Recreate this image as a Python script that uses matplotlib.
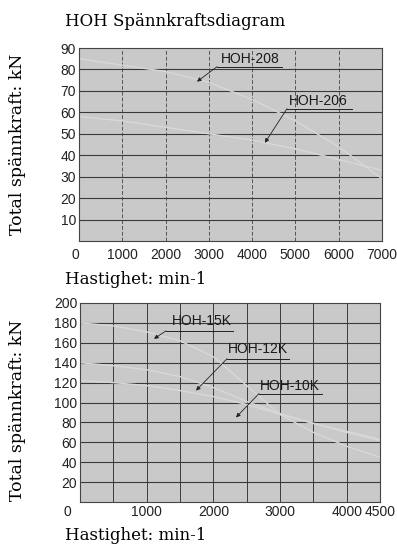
import matplotlib
matplotlib.use("Agg")
import matplotlib.pyplot as plt
import matplotlib.transforms as mtransforms
import numpy as np

# ------------------------------------------------------------------
# data
rpm_top = [0, 1000, 2000, 3000, 4000, 5000, 6000, 7000]
hoh_208 = [85, 82, 79, 74, 66, 56, 44, 29]
hoh_206 = [58, 56, 53, 50, 47, 43, 38, 33]

rpm_bot = [0, 500, 1000, 1500, 2000, 2500, 3000, 3500, 4000, 4500]
hoh_15k = [180, 177, 171, 162, 146, 117, 88, 70, 56, 45]
hoh_12k = [140, 137, 133, 126, 115, 101, 89, 79, 70, 62]
hoh_10k = [122, 120, 117, 112, 106, 98, 88, 79, 71, 63]

xticks_top = [0, 1000, 2000, 3000, 4000, 5000, 6000, 7000]
yticks_top = [10, 20, 30, 40, 50, 60, 70, 80, 90]
xticks_bot = [0, 1000, 2000, 3000, 4000, 4500]
yticks_bot = [20, 40, 60, 80, 100, 120, 140, 160, 180, 200]

title = "HOH Spännkraftsdiagram"
ylab = "Total spännkraft: kN"
xlab = "Hastighet: min-1"
# ------------------------------------------------------------------

W, H = 397, 555
serif = ["DejaVu Serif"]
narrow = ["Liberation Sans", "DejaVu Sans"]
bg = "#c9c9c9"
line_col = "#d8d8d8"
grid_col = "#3a3a3a"


def px(x, y):
    return x / W, 1 - y / H


def style_axes(ax, xticks, yticks, xlim, ylim, vgrid, hgrid, vdash, vcol):
    ax.set_facecolor(bg)
    ax.set_xlim(*xlim)
    ax.set_ylim(*ylim)
    for v in vgrid:
        ax.axvline(v, color=vcol, lw=0.7, ls=vdash, zorder=1)
    for h in hgrid:
        ax.axhline(h, color=grid_col, lw=0.8, zorder=1)
    ax.set_xticks(xticks)
    ax.set_yticks(yticks)
    ax.set_xticklabels([str(t) for t in xticks], family=narrow, fontsize=10)
    ax.set_yticklabels([str(t) for t in yticks], family=narrow, fontsize=10)
    ax.tick_params(length=0, pad=2, colors="#222222")
    for s in ax.spines.values():
        s.set_color("#444444")
        s.set_linewidth(0.8)
    # the "0" label sits left of the corner in the original
    lab0 = ax.get_xticklabels()[0]
    lab0.set_horizontalalignment("right")
    off = mtransforms.ScaledTranslation(-6 / 72, 0, ax.figure.dpi_scale_trans)
    lab0.set_transform(lab0.get_transform() + off)


def label(ax, text, xy_text, y_under, x_under, target):
    ax.text(xy_text[0], xy_text[1], text, family=narrow, fontsize=10,
            ha="center", va="center", color="#1a1a1a", zorder=4)
    ax.plot(x_under, [y_under, y_under], color="#222222", lw=0.7, zorder=4)
    ax.annotate("", xy=target, xytext=(x_under[0], y_under),
                arrowprops=dict(arrowstyle="-|>", color="#222222", lw=0.6,
                                mutation_scale=6, shrinkA=0, shrinkB=0),
                zorder=4)


fig = plt.figure(figsize=(W / 100, H / 100), dpi=100)

# top diagram
ax1 = fig.add_axes([79 / W, 1 - 241 / H, 303 / W, 193 / H])
style_axes(ax1, xticks_top, yticks_top, (0, 7000), (0, 90),
           range(1000, 7000, 1000), range(10, 90, 10), (0, (4, 2)), "#555555")
ax1.tick_params(axis="x", pad=5)
ax1.plot(rpm_top, hoh_208, color=line_col, lw=1.0, zorder=2)
ax1.plot(rpm_top, hoh_206, color=line_col, lw=1.0, zorder=2)
label(ax1, "HOH-208", (3950, 85), 81.3, [3190, 4690], (2725, 74.3))
label(ax1, "HOH-206", (5520, 65.4), 61.7, [4805, 6300], (4295, 45.8))

# bottom diagram
ax2 = fig.add_axes([80 / W, 1 - 502 / H, 300 / W, 199 / H])
style_axes(ax2, xticks_bot, yticks_bot, (0, 4500), (0, 200),
           range(500, 4500, 500), range(20, 200, 20), "-", grid_col)
ax2.plot(rpm_bot, hoh_15k, color=line_col, lw=1.0, zorder=2)
ax2.plot(rpm_bot, hoh_12k, color=line_col, lw=1.0, zorder=2)
ax2.plot(rpm_bot, hoh_10k, color=line_col, lw=1.0, zorder=2)
label(ax2, "HOH-15K", (1830, 182), 172, [1290, 2295], (1110, 164))
label(ax2, "HOH-12K", (2670, 154), 144, [2205, 3135], (1740, 112))
label(ax2, "HOH-10K", (3150, 117), 109, [2685, 3630], (2340, 85))

# figure texts
fig.text(*px(65, 21), title, family=serif, fontsize=12, va="center")
fig.text(*px(65, 280), xlab, family=serif, fontsize=12, va="center")
fig.text(*px(65, 535), xlab, family=serif, fontsize=12, va="center")
fig.text(*px(18, 144), ylab, family=serif, fontsize=12.5, rotation=90,
         ha="center", va="center")
fig.text(*px(18, 410), ylab, family=serif, fontsize=12.5, rotation=90,
         ha="center", va="center")

fig.savefig("out.png", dpi=100, facecolor="white")
